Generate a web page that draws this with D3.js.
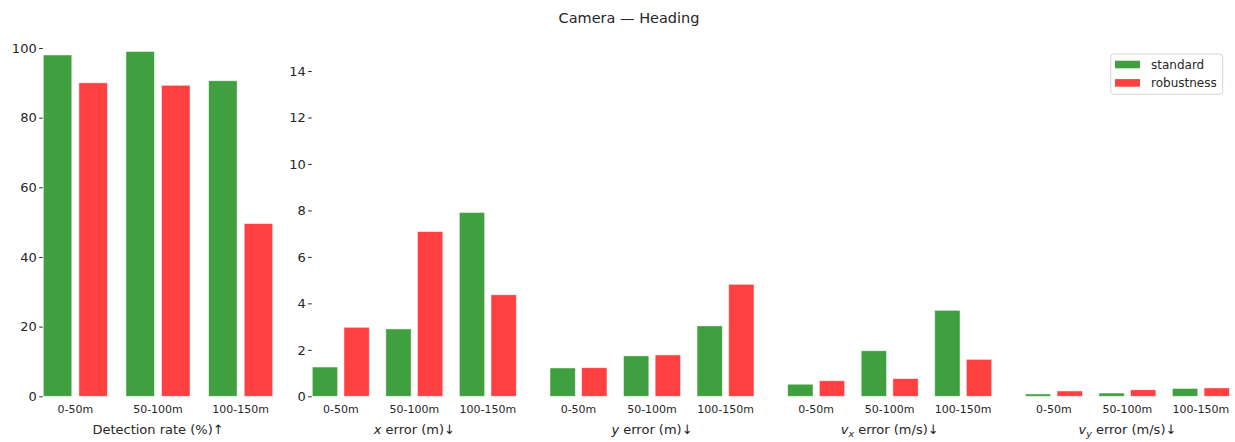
<!DOCTYPE html>
<html>
<head>
<meta charset="utf-8">
<script src="https://cdn.jsdelivr.net/npm/d3@7"></script>
<style>
  html, body { margin: 0; padding: 0; background: #fff; }
  svg { display: block; font-family: "DejaVu Sans", sans-serif; }
</style>
</head>
<body>
<svg id="chart" width="1235" height="442"></svg>
<script>
// Distance bins and series
const categories = ["0-50m", "50-100m", "100-150m"];
const seriesNames = ["standard", "robustness"];

// Detection rate (%)
const detectionStandard = [98.0, 99.0, 90.6];
const detectionRobustness = [90.0, 89.3, 49.6];
// x error (m)
const xErrStandard = [1.26, 2.90, 7.91];
const xErrRobustness = [2.97, 7.09, 4.37];
// y error (m)
const yErrStandard = [1.22, 1.74, 3.03];
const yErrRobustness = [1.23, 1.78, 4.82];
// vx error (m/s)
const vxErrStandard = [0.52, 1.96, 3.70];
const vxErrRobustness = [0.67, 0.76, 1.59];
// vy error (m/s)
const vyErrStandard = [0.10, 0.14, 0.34];
const vyErrRobustness = [0.23, 0.28, 0.36];

// Tick labels
const detectionTicks = [0, 20, 40, 60, 80, 100];
const errorTicks = [0, 2, 4, 6, 8, 10, 12, 14];

const colors = { standard: "#40a040", robustness: "#ff4040" };
const textColor = "#262626";

const svg = d3.select("#chart");
const baseY = 396.3;

// Panel geometry (pixels)
const panels = [
  { left: 43.3,  width: 229.4, std: detectionStandard, rob: detectionRobustness,
    yMax: 100, yTop: 48, ticks: detectionTicks, label: [{t: "Detection rate (%)\u2191"}] },
  { left: 312.3, width: 204, std: xErrStandard, rob: xErrRobustness,
    yMax: 14, yTop: 71, ticks: errorTicks, label: [{t: "x", i: true}, {t: " error (m)\u2193"}] },
  { left: 550,   width: 204, std: yErrStandard, rob: yErrRobustness,
    yMax: 14, yTop: 71, ticks: null, label: [{t: "y", i: true}, {t: " error (m)\u2193"}] },
  { left: 787.7, width: 204, std: vxErrStandard, rob: vxErrRobustness,
    yMax: 14, yTop: 71, ticks: null, label: [{t: "v", i: true}, {t: "x", i: true, sub: true}, {t: " error (m/s)\u2193"}] },
  { left: 1025.4, width: 204, std: vyErrStandard, rob: vyErrRobustness,
    yMax: 14, yTop: 71, ticks: null, label: [{t: "v", i: true}, {t: "y", i: true, sub: true}, {t: " error (m/s)\u2193"}] }
];

// Title
svg.append("text")
  .attr("x", 629).attr("y", 23)
  .attr("text-anchor", "middle")
  .attr("font-size", 14.5)
  .attr("fill", textColor)
  .text("Camera \u2014 Heading");

panels.forEach(p => {
  const g = svg.append("g");

  const x = d3.scaleBand()
    .domain(categories)
    .range([p.left, p.left + p.width])
    .paddingInner(0.225)
    .paddingOuter(0);

  const xs = d3.scaleBand()
    .domain(seriesNames)
    .range([0, x.bandwidth()])
    .paddingInner(0.2);

  const y = d3.scaleLinear()
    .domain([0, p.yMax])
    .range([baseY, p.yTop]);

  const rows = categories.map((c, i) => ({ cat: c, standard: p.std[i], robustness: p.rob[i] }));

  const groups = g.selectAll("g.grp")
    .data(rows)
    .join("g")
    .attr("class", "grp")
    .attr("transform", d => `translate(${x(d.cat)},0)`);

  groups.selectAll("rect")
    .data(d => seriesNames.map(s => ({ s, v: d[s] })))
    .join("rect")
    .attr("x", d => xs(d.s))
    .attr("width", xs.bandwidth())
    .attr("y", d => y(d.v))
    .attr("height", d => baseY - y(d.v))
    .attr("fill", d => colors[d.s])
    .attr("stroke", "#ffffff")
    .attr("stroke-opacity", 0.6)
    .attr("stroke-width", 0.8);

  // Category labels
  const xAxis = g.append("g")
    .attr("transform", `translate(0,${baseY})`)
    .call(d3.axisBottom(x).tickSize(0).tickPadding(9));
  xAxis.select(".domain").remove();
  xAxis.selectAll("text")
    .attr("font-family", "DejaVu Sans, sans-serif")
    .attr("font-size", 11)
    .attr("fill", textColor);

  // Y axis (only where ticks are shown)
  if (p.ticks) {
    const yAxis = g.append("g")
      .attr("transform", `translate(${p.left - 0.6},0)`)
      .call(d3.axisLeft(y).tickValues(p.ticks).tickSize(3.5).tickPadding(2.5));
    yAxis.select(".domain").remove();
    yAxis.selectAll("line").attr("stroke", textColor).attr("stroke-width", 1);
    yAxis.selectAll("text")
      .attr("font-family", "DejaVu Sans, sans-serif")
      .attr("font-size", 13)
      .attr("fill", textColor);
  }

  // Axis label
  const lab = g.append("text")
    .attr("x", p.left + p.width / 2)
    .attr("y", 434)
    .attr("text-anchor", "middle")
    .attr("font-size", 13)
    .attr("fill", textColor);
  p.label.forEach(part => {
    const ts = lab.append("tspan").text(part.t);
    if (part.i) ts.attr("font-style", "italic");
    if (part.sub) ts.attr("font-size", 9.5).attr("dy", 3);
    else if (lab.selectAll("tspan").size() > 1 && p.label.some(q => q.sub)) ts.attr("dy", part.i ? 0 : -3);
  });
});

// Legend
const legend = svg.append("g");
legend.append("rect")
  .attr("x", 1110.7).attr("y", 54)
  .attr("width", 112).attr("height", 40.3)
  .attr("rx", 3)
  .attr("fill", "#fff")
  .attr("stroke", "#d4d4d4")
  .attr("stroke-width", 1);
seriesNames.forEach((s, i) => {
  legend.append("rect")
    .attr("x", 1115).attr("y", 60.7 + i * 18.4)
    .attr("width", 25).attr("height", 7.6)
    .attr("fill", colors[s]);
  legend.append("text")
    .attr("x", 1151).attr("y", 69 + i * 18.4)
    .attr("font-size", 12)
    .attr("fill", textColor)
    .text(s);
});
</script>
</body>
</html>
